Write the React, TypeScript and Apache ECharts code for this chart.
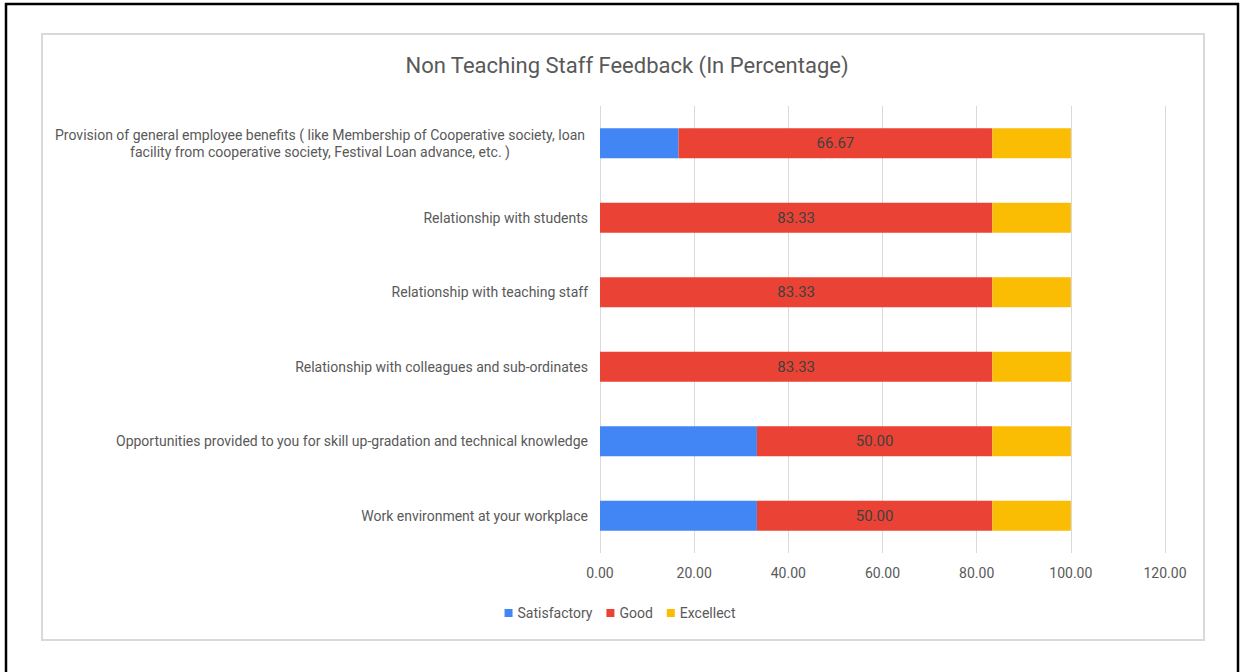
import React, { useEffect, useRef } from "react";
import * as echarts from "echarts";

const categories = [
  "Work environment at your workplace",
  "Opportunities provided to you for skill up-gradation and technical knowledge",
  "Relationship with colleagues and sub-ordinates",
  "Relationship with teaching staff",
  "Relationship with students",
  "Provision of general employee benefits ( like Membership of Cooperative society, loan\nfacility from cooperative society, Festival Loan advance, etc. )",
];
const satisfactory = [33.33, 33.33, 0, 0, 0, 16.67];
const good = [50.0, 50.0, 83.33, 83.33, 83.33, 66.67];
const excellent = [16.67, 16.67, 16.67, 16.67, 16.67, 16.67];
const seriesNames = ["Satisfactory", "Good", "Excellect"];
const colors = ["#4285F4", "#EA4335", "#FBBC04"];

const FONT = "Roboto, 'Liberation Sans', Arial, sans-serif";

export default function App() {
  const ref = useRef<HTMLDivElement>(null);
  useEffect(() => {
    if (!ref.current) return;
    const chart = echarts.init(ref.current, undefined, { renderer: "svg" });
    const mk = (name: string, data: number[], i: number, label: boolean) => ({
      name,
      type: "bar",
      stack: "total",
      data,
      barWidth: 30,
      itemStyle: { color: colors[i] },
      label: label
        ? {
            show: true,
            position: "inside",
            color: "#404040",
            fontSize: 15,
            fontFamily: FONT,
            formatter: (p: any) => Number(p.value).toFixed(2),
          }
        : { show: false },
      emphasis: { disabled: true },
    });
    chart.setOption({
      animation: false,
      backgroundColor: "#ffffff",
      textStyle: { fontFamily: FONT },
      title: {
        text: "Non Teaching Staff Feedback (In Percentage)",
        left: 622,
        textAlign: "center",
        top: 49,
        textStyle: { color: "#595959", fontSize: 22, fontWeight: "normal", fontFamily: FONT },
      },
      legend: {
        data: seriesNames,
        top: 601,
        left: "center",
        itemWidth: 8,
        itemHeight: 8,
        itemGap: 14,
        icon: "rect",
        textStyle: { color: "#595959", fontSize: 14, fontFamily: FONT },
      },
      grid: { left: 600, right: 75, top: 106, bottom: 119, containLabel: false },
      xAxis: {
        type: "value",
        min: 0,
        max: 120,
        interval: 20,
        axisLine: { show: false },
        axisTick: { show: false },
        splitLine: { show: true, lineStyle: { color: "#d9d9d9", width: 1 } },
        axisLabel: {
          color: "#595959",
          fontSize: 14,
          margin: 13,
          fontFamily: FONT,
          formatter: (v: number) => v.toFixed(2),
        },
      },
      yAxis: {
        type: "category",
        data: categories,
        axisLine: { show: false },
        axisTick: { show: false },
        axisLabel: {
          color: "#595959",
          fontSize: 14,
          margin: 12,
          fontFamily: FONT,
          lineHeight: 17,
          formatter: (v: string) =>
            v.indexOf("\n") >= 0
              ? v
                  .split("\n")
                  .map((l) => "{c|" + l + "}")
                  .join("\n")
              : v,
          rich: {
            c: {
              width: 536,
              align: "center",
              color: "#595959",
              fontSize: 14,
              fontFamily: FONT,
              lineHeight: 17,
            },
          },
        },
      },
      graphic: [
        {
          type: "rect",
          shape: { x: 6, y: 4, width: 1232, height: 700 },
          style: { fill: "none", stroke: "#000000", lineWidth: 2.5 },
          silent: true,
        },
        {
          type: "rect",
          shape: { x: 42, y: 34, width: 1162, height: 606 },
          style: { fill: "none", stroke: "#d9d9d9", lineWidth: 2 },
          silent: true,
        },
      ],
      series: [
        mk(seriesNames[0], satisfactory, 0, false),
        mk(seriesNames[1], good, 1, true),
        mk(seriesNames[2], excellent, 2, false),
      ],
    });
    return () => chart.dispose();
  }, []);
  return (
    <div
      ref={ref}
      style={{ position: "absolute", left: 0, top: 0, width: 1240, height: 672 }}
    />
  );
}
